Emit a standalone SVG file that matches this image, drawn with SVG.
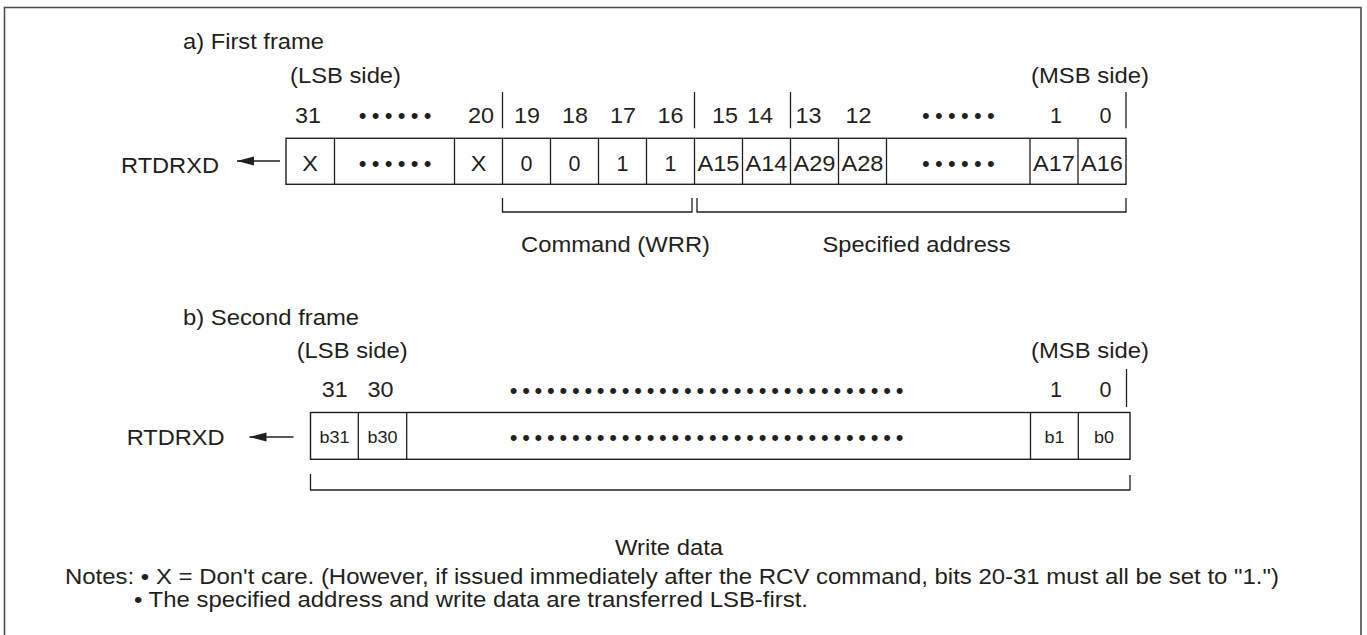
<svg xmlns="http://www.w3.org/2000/svg" width="1367" height="635" viewBox="0 0 1367 635">
<style>
text{font-family:"Liberation Sans",Arial,Helvetica,sans-serif;fill:#231f20}
.t{font-size:21.5px}
.c{font-size:21.5px;text-anchor:middle}
.b{font-size:16.5px;text-anchor:middle}
.d{font-size:22px;letter-spacing:5.3px}
.d2{font-size:22px;letter-spacing:4.75px}
.ln{fill:none;stroke:#231f20;stroke-width:1.3}
.box{fill:#fff;stroke:#231f20;stroke-width:1.4}
.fr{fill:none;stroke:#4d4d4d;stroke-width:1.6}
</style>
<defs>
<marker id="ah" markerUnits="userSpaceOnUse" markerWidth="18" markerHeight="10" refX="17" refY="4.5" orient="auto">
<path d="M0,0 L17,4.5 L0,9 z" fill="#231f20"/>
</marker>
</defs>
<rect width="1367" height="635" fill="#fff"/>
<path class="fr" d="M4.5,640 V7.5 H1361 V640"/>

<!-- a) First frame -->
<g id="title-a">
<text class="t" x="183" y="49" textLength="141" lengthAdjust="spacingAndGlyphs">a) First frame</text>
<text class="t" x="290" y="83" textLength="111" lengthAdjust="spacingAndGlyphs">(LSB side)</text>
<text class="t" x="1031" y="83" textLength="118" lengthAdjust="spacingAndGlyphs">(MSB side)</text>
</g>
<g id="bits-a">
<text class="c" x="308" y="123" textLength="26" lengthAdjust="spacingAndGlyphs">31</text>
<text class="d" x="358.7" y="123">••••••</text>
<text class="c" x="481" y="123" textLength="26" lengthAdjust="spacingAndGlyphs">20</text>
<text class="c" x="527" y="123" textLength="26" lengthAdjust="spacingAndGlyphs">19</text>
<text class="c" x="575" y="123" textLength="26" lengthAdjust="spacingAndGlyphs">18</text>
<text class="c" x="623" y="123" textLength="26" lengthAdjust="spacingAndGlyphs">17</text>
<text class="c" x="670.5" y="123" textLength="26" lengthAdjust="spacingAndGlyphs">16</text>
<text class="c" x="725" y="123" textLength="26" lengthAdjust="spacingAndGlyphs">15</text>
<text class="c" x="760" y="123" textLength="26" lengthAdjust="spacingAndGlyphs">14</text>
<text class="c" x="808.5" y="123" textLength="26" lengthAdjust="spacingAndGlyphs">13</text>
<text class="c" x="858.5" y="123" textLength="26" lengthAdjust="spacingAndGlyphs">12</text>
<text class="d" x="922" y="123">••••••</text>
<text class="c" x="1056" y="123">1</text>
<text class="c" x="1105.5" y="123">0</text>
<path class="ln" d="M502.5,92 V128.3 M694.5,92 V128.3 M790.5,92 V128.3 M1126,92 V128.3"/>
</g>
<g id="rtdrxd-a">
<text class="t" x="121" y="172.5" textLength="98" lengthAdjust="spacingAndGlyphs">RTDRXD</text>
</g>
<g id="reg-a">
<rect class="box" x="286" y="138.3" width="840" height="46"/>
<path class="ln" d="M334.5,138.3 V184.3 M454.5,138.3 V184.3 M502.5,138.3 V184.3 M550.5,138.3 V184.3 M598.5,138.3 V184.3 M646.5,138.3 V184.3 M694.5,138.3 V184.3 M742.5,138.3 V184.3 M790.5,138.3 V184.3 M838.5,138.3 V184.3 M886.5,138.3 V184.3 M1030,138.3 V184.3 M1078,138.3 V184.3"/>
<text class="c" x="310" y="171" textLength="15.7" lengthAdjust="spacingAndGlyphs">X</text>
<text class="d" x="358.7" y="171">••••••</text>
<text class="c" x="478.5" y="171" textLength="15.7" lengthAdjust="spacingAndGlyphs">X</text>
<text class="c" x="526.5" y="171">0</text>
<text class="c" x="574.5" y="171">0</text>
<text class="c" x="622.5" y="171">1</text>
<text class="c" x="670.5" y="171">1</text>
<text class="c" x="718.5" y="171" textLength="42" lengthAdjust="spacingAndGlyphs">A15</text>
<text class="c" x="766.5" y="171" textLength="42" lengthAdjust="spacingAndGlyphs">A14</text>
<text class="c" x="814.5" y="171" textLength="42" lengthAdjust="spacingAndGlyphs">A29</text>
<text class="c" x="862.5" y="171" textLength="42" lengthAdjust="spacingAndGlyphs">A28</text>
<text class="d" x="922" y="171">••••••</text>
<text class="c" x="1054" y="171" textLength="42" lengthAdjust="spacingAndGlyphs">A17</text>
<text class="c" x="1102" y="171" textLength="42" lengthAdjust="spacingAndGlyphs">A16</text>
</g>
<g id="cmd-a">
<path class="ln" d="M502.5,198 V212 H692 V198"/>
<text class="t" x="521" y="252" textLength="189" lengthAdjust="spacingAndGlyphs">Command (WRR)</text>
</g>
<g id="addr-a">
<path class="ln" d="M697,198 V212 H1126 V198"/>
<text class="t" x="822.5" y="252" textLength="188" lengthAdjust="spacingAndGlyphs">Specified address</text>
</g>

<!-- b) Second frame -->
<g id="title-b">
<text class="t" x="183" y="325" textLength="176" lengthAdjust="spacingAndGlyphs">b) Second frame</text>
<text class="t" x="296.7" y="358" textLength="111" lengthAdjust="spacingAndGlyphs">(LSB side)</text>
<text class="t" x="1031" y="358" textLength="118" lengthAdjust="spacingAndGlyphs">(MSB side)</text>
</g>
<g id="bits-b">
<text class="c" x="334.7" y="397" textLength="26" lengthAdjust="spacingAndGlyphs">31</text>
<text class="c" x="380.5" y="397" textLength="26" lengthAdjust="spacingAndGlyphs">30</text>
<text class="d2" x="509.7" y="397.5">••••••••••••••••••••••••••••••••</text>
<text class="c" x="1056" y="397">1</text>
<text class="c" x="1105.5" y="397">0</text>
<path class="ln" d="M1126.5,369 V407"/>
</g>
<g id="rtdrxd-b">
<text class="t" x="126.7" y="445" textLength="98" lengthAdjust="spacingAndGlyphs">RTDRXD</text>
</g>
<g id="reg-b">
<rect class="box" x="310.5" y="412.5" width="819.5" height="46.8"/>
<path class="ln" d="M358.3,412.5 V459.3 M406.7,412.5 V459.3 M1030.5,412.5 V459.3 M1078.3,412.5 V459.3"/>
<text class="b" x="334.5" y="443" textLength="30" lengthAdjust="spacingAndGlyphs">b31</text>
<text class="b" x="382.5" y="443" textLength="30" lengthAdjust="spacingAndGlyphs">b30</text>
<text class="d2" x="509.7" y="445.3">••••••••••••••••••••••••••••••••</text>
<text class="b" x="1054.5" y="443" textLength="20" lengthAdjust="spacingAndGlyphs">b1</text>
<text class="b" x="1104" y="443" textLength="20" lengthAdjust="spacingAndGlyphs">b0</text>
</g>
<g id="data-b">
<path class="ln" d="M310.5,474 V490 H1130 V475"/>
<text class="t" x="615" y="555" textLength="108" lengthAdjust="spacingAndGlyphs">Write data</text>
</g>

<g id="notes">
<text class="t" x="65" y="584" textLength="1214" lengthAdjust="spacingAndGlyphs">Notes: • X = Don't care. (However, if issued immediately after the RCV command, bits 20-31 must all be set to "1.")</text>
<text class="t" x="134" y="607" textLength="674" lengthAdjust="spacingAndGlyphs">• The specified address and write data are transferred LSB-first.</text>
</g>

<g id="connectors">
<line class="ln" x1="280" y1="161" x2="237" y2="161" marker-end="url(#ah)"/>
<line class="ln" x1="293.5" y1="437" x2="249.5" y2="437" marker-end="url(#ah)"/>
</g>
</svg>
